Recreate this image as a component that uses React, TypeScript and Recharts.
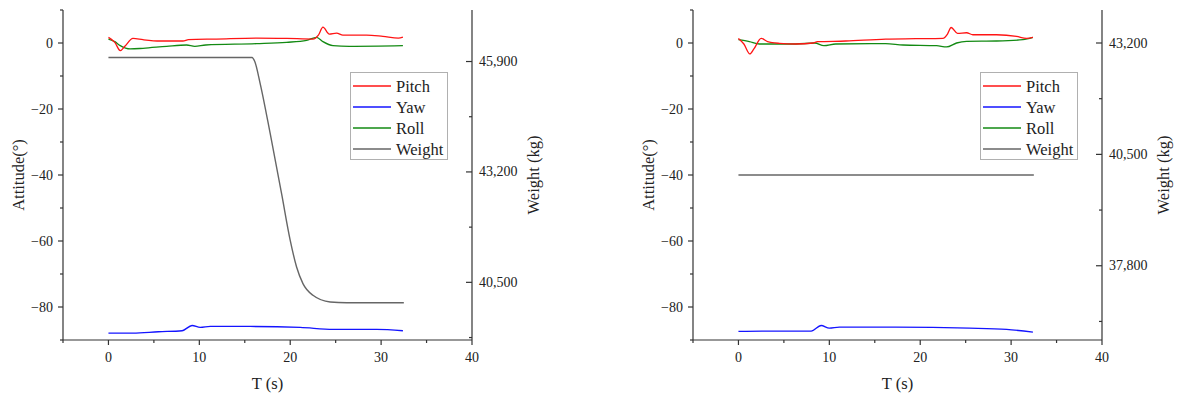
import React from 'react';
import { LineChart, Line, XAxis, YAxis, Legend, Label } from 'recharts';

// ---- series data: [time (s), value] ----
const pitchA: [number, number][] = [
  [0, 1.7], [0.7, 0.2], [1.3, -2.3], [1.8, -1.0], [2.7, 1.4], [3.8, 1.0], [5.7, 0.6], [8.2, 0.6],
  [8.8, 1.0], [11.9, 1.2], [16.3, 1.5], [19.6, 1.4], [22.5, 1.2], [23.1, 2.4], [23.6, 4.8],
  [24.3, 2.7], [25.1, 3.0], [25.8, 2.4], [28.4, 2.4], [30.2, 2.0], [31.9, 1.5], [32.4, 1.8],
];
const yawA: [number, number][] = [
  [0, -87.9], [2.7, -87.9], [5.5, -87.5], [8.1, -87.2], [9.2, -85.6], [10.1, -86.2], [11.2, -85.9],
  [15.6, -85.9], [21.1, -86.2], [24.7, -86.8], [29.5, -86.8], [32.4, -87.2],
];
const rollA: [number, number][] = [
  [0, 1.2], [0.7, 0.4], [1.3, -0.8], [2.4, -1.8], [3.8, -1.6], [6.4, -1.0], [8.6, -0.6], [9.5, -1.0],
  [10.7, -0.6], [16.3, -0.2], [19.6, 0.2], [21.8, 0.8], [22.9, 1.7], [23.6, 0.4], [24.7, -0.8],
  [26.5, -1.0], [32.4, -0.8],
];
const weightA: [number, number][] = [
  [0, 46000], [15.8, 46000], [16.1, 45900], [16.7, 45355], [17.8, 44134], [19.05, 42668],
  [20.0, 41527], [20.7, 40875], [21.4, 40469], [22.5, 40183], [24.4, 40020], [26.2, 40000], [32.5, 40000],
];

const pitchB: [number, number][] = [
  [0, 1.4], [0.6, -0.3], [1.25, -3.3], [1.7, -1.8], [2.5, 1.4], [3.2, 0.4], [4.5, -0.1], [6.3, -0.3],
  [8.2, 0.0], [8.7, 0.4], [11.8, 0.6], [16.2, 1.2], [19.5, 1.3], [22.5, 1.4], [23.0, 2.7], [23.4, 4.7],
  [24.1, 2.9], [25.1, 3.1], [25.8, 2.5], [28.4, 2.5], [30.6, 2.0], [31.7, 1.4], [32.4, 1.7],
];
const yawB: [number, number][] = [
  [0, -87.4], [2.6, -87.3], [8.0, -87.3], [9.1, -85.6], [10.0, -86.4], [11.1, -86.1], [17.3, -86.1],
  [25.4, -86.4], [29.5, -86.8], [32.4, -87.6],
];
const rollB: [number, number][] = [
  [0, 1.0], [1.2, 0.4], [2.3, -0.3], [6.3, -0.3], [8.4, 0.0], [9.4, -0.8], [10.7, -0.3], [16.2, -0.2],
  [18.1, -0.6], [21.8, -0.8], [22.9, -1.2], [24.0, 0.0], [25.1, 0.5], [28.4, 0.6], [31.3, 1.0], [32.4, 1.7],
];
const weightB: [number, number][] = [[0, 40000], [32.5, 40000]];

// ---- axes ----
const timeTicks = [-5, 0, 5, 10, 15, 20, 25, 30, 35, 40];
const attitudeTicks = [10, 0, -10, -20, -30, -40, -50, -60, -70, -80, -90];
const weightTicksA = [39150, 40500, 41850, 43200, 44550, 45900];
const weightMajorA = [40500, 43200, 45900];
const weightTicksB = [36450, 37800, 39150, 40500, 41850, 43200];
const weightMajorB = [37800, 40500, 43200];

const seriesNames = ['Pitch', 'Yaw', 'Roll', 'Weight'];
const COLORS: Record<string, string> = {
  Pitch: '#ff1414',
  Yaw: '#1414ff',
  Roll: '#138a13',
  Weight: '#666666',
};

const AXIS = '#333333';
const TEXT = '#222222';
const FONT = 'Liberation Serif, Times New Roman, serif';
const textStyle = { fontFamily: FONT } as const;

const toRows = (pts: [number, number][]) => pts.map(([t, v]) => ({ t, v }));
const fmtNum = (v: number) => String(v).replace('-', '\u2212');

const LeftTick = (p: any) => {
  const { x, y, payload } = p;
  const v = payload.value as number;
  const major = v % 20 === 0;
  return (
    <g>
      <line x1={x - (major ? 5 : 3)} x2={x} y1={y} y2={y} stroke={AXIS} strokeWidth={1.2} />
      {major && (
        <text x={x - 10} y={y} textAnchor="end" dominantBaseline="central" fontSize={14} fill={TEXT} style={textStyle}>
          {fmtNum(v)}
        </text>
      )}
    </g>
  );
};

const BottomTick = (p: any) => {
  const { x, y, payload } = p;
  const v = payload.value as number;
  const major = v % 10 === 0;
  return (
    <g>
      <line x1={x} x2={x} y1={y} y2={y + (major ? 5 : 3)} stroke={AXIS} strokeWidth={1.2} />
      {major && (
        <text x={x} y={y + 17} textAnchor="middle" dominantBaseline="central" fontSize={14} fill={TEXT} style={textStyle}>
          {fmtNum(v)}
        </text>
      )}
    </g>
  );
};

const makeRightTick = (majors: number[]) => (p: any) => {
  const { x, y, payload } = p;
  const v = payload.value as number;
  const major = majors.includes(v);
  return (
    <g>
      <line x1={x - (major ? 6 : 3)} x2={x} y1={y} y2={y} stroke={AXIS} strokeWidth={1.2} />
      {major && (
        <text x={x + 7} y={y} textAnchor="start" dominantBaseline="central" fontSize={14} fill={TEXT} style={textStyle}>
          {v.toLocaleString('en-US')}
        </text>
      )}
    </g>
  );
};

const LegendBox = () => (
  <div
    style={{
      width: 98,
      height: 88,
      boxSizing: 'border-box',
      border: '1px solid #b0b0b0',
      background: '#fff',
      position: 'relative',
    }}
  >
    <svg width={96} height={86} style={{ position: 'absolute', left: 0, top: 0 }}>
      {seriesNames.map((name, i) => (
        <g key={name}>
          <line x1={2} x2={40} y1={13 + i * 21} y2={13 + i * 21} stroke={COLORS[name]} strokeWidth={1.3} />
          <text x={45} y={13 + i * 21} dominantBaseline="central" fontSize={16.5} fill={TEXT} style={textStyle}>
            {name}
          </text>
        </g>
      ))}
    </svg>
  </div>
);

type PanelProps = {
  pitch: [number, number][];
  yaw: [number, number][];
  roll: [number, number][];
  weight: [number, number][];
  weightDomain: [number, number];
  weightTicks: number[];
  weightMajor: number[];
};

function Panel({ pitch, yaw, roll, weight, weightDomain, weightTicks, weightMajor }: PanelProps) {
  const RightTick = makeRightTick(weightMajor);
  return (
    <LineChart width={547} height={396} margin={{ top: 10, right: 0, bottom: 0, left: 0 }}>
      <XAxis
        xAxisId="t"
        dataKey="t"
        type="number"
        domain={[-5, 40]}
        ticks={timeTicks}
        interval={0}
        height={56}
        tickSize={0}
        tickMargin={0}
        tickLine={false}
        axisLine={{ stroke: AXIS, strokeWidth: 1.2 }}
        tick={<BottomTick />}
      >
        <Label
          content={() => (
            <text x={267.5} y={383} textAnchor="middle" dominantBaseline="central" fontSize={16.5} fill={TEXT} style={textStyle}>
              T (s)
            </text>
          )}
        />
      </XAxis>
      <YAxis
        yAxisId="a"
        type="number"
        domain={[-90, 10]}
        ticks={attitudeTicks}
        interval={0}
        width={63}
        tickSize={0}
        tickMargin={0}
        tickLine={false}
        axisLine={{ stroke: AXIS, strokeWidth: 1.2 }}
        tick={<LeftTick />}
        allowDataOverflow
      >
        <Label
          content={() => (
            <text
              x={18}
              y={175}
              textAnchor="middle"
              dominantBaseline="central"
              transform="rotate(-90 18 175)"
              fontSize={16.5}
              fill={TEXT}
              style={textStyle}
            >
              Attitude(°)
            </text>
          )}
        />
      </YAxis>
      <YAxis
        yAxisId="w"
        orientation="right"
        type="number"
        domain={weightDomain}
        ticks={weightTicks}
        interval={0}
        width={75}
        tickSize={0}
        tickMargin={0}
        tickLine={false}
        axisLine={{ stroke: AXIS, strokeWidth: 1.2 }}
        tick={<RightTick />}
        allowDataOverflow
      >
        <Label
          content={() => (
            <text
              x={533}
              y={175}
              textAnchor="middle"
              dominantBaseline="central"
              transform="rotate(-90 533 175)"
              fontSize={16.5}
              fill={TEXT}
              style={textStyle}
            >
              Weight (kg)
            </text>
          )}
        />
      </YAxis>
      <Legend
        layout="horizontal"
        verticalAlign="middle"
        align="center"
        wrapperStyle={{ left: 350, top: 72, width: 98, height: 88 }}
        content={() => <LegendBox />}
      />
      <Line xAxisId="t" yAxisId="w" data={toRows(weight)} dataKey="v" name="Weight" type="monotone"
        stroke={COLORS.Weight} strokeWidth={1.4} dot={false} isAnimationActive={false} />
      <Line xAxisId="t" yAxisId="a" data={toRows(yaw)} dataKey="v" name="Yaw" type="monotone"
        stroke={COLORS.Yaw} strokeWidth={1.3} dot={false} isAnimationActive={false} />
      <Line xAxisId="t" yAxisId="a" data={toRows(roll)} dataKey="v" name="Roll" type="monotone"
        stroke={COLORS.Roll} strokeWidth={1.3} dot={false} isAnimationActive={false} />
      <Line xAxisId="t" yAxisId="a" data={toRows(pitch)} dataKey="v" name="Pitch" type="monotone"
        stroke={COLORS.Pitch} strokeWidth={1.3} dot={false} isAnimationActive={false} />
    </LineChart>
  );
}

export default function App() {
  return (
    <div style={{ position: 'absolute', left: 0, top: 0, width: 1177, height: 396, background: '#fff', fontFamily: FONT }}>
      <div style={{ position: 'absolute', left: 0, top: 0 }}>
        <Panel
          pitch={pitchA}
          yaw={yawA}
          roll={rollA}
          weight={weightA}
          weightDomain={[39090, 47160]}
          weightTicks={weightTicksA}
          weightMajor={weightMajorA}
        />
      </div>
      <div style={{ position: 'absolute', left: 630, top: 0 }}>
        <Panel
          pitch={pitchB}
          yaw={yawB}
          roll={rollB}
          weight={weightB}
          weightDomain={[36000, 44000]}
          weightTicks={weightTicksB}
          weightMajor={weightMajorB}
        />
      </div>
    </div>
  );
}
